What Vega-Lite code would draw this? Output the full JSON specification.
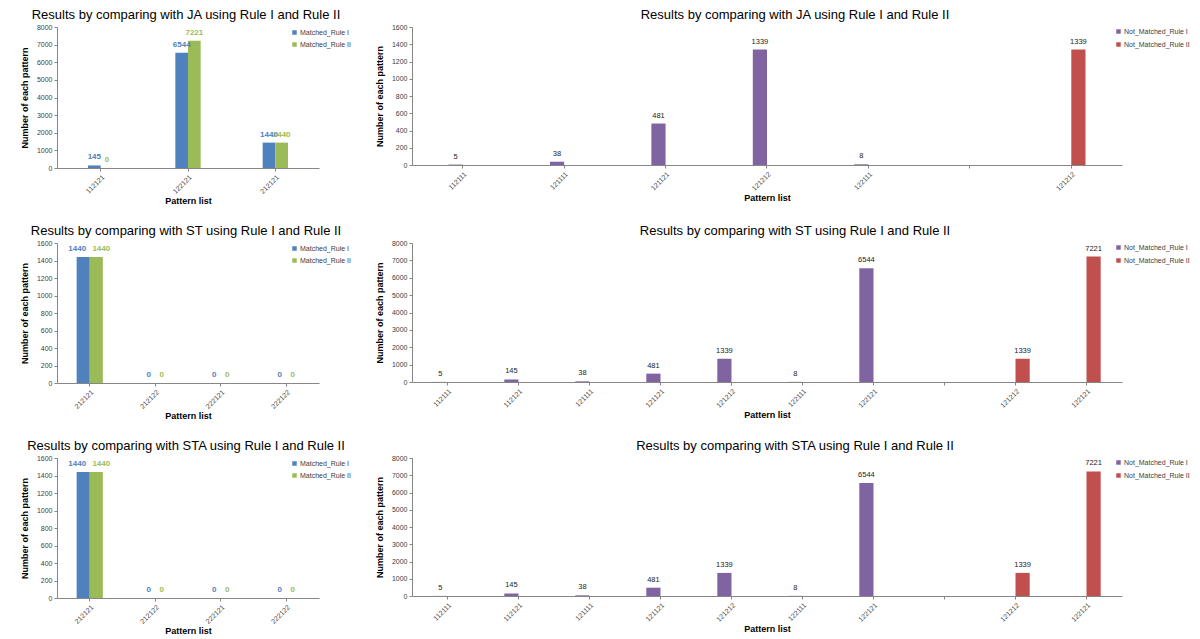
{
  "$schema": "https://vega.github.io/schema/vega-lite/v6.json",
  "padding": {"left": 20, "top": 9, "right": 5, "bottom": 3},
  "background": "white",
  "resolve": {"scale": {"color": "independent", "xOffset": "independent", "x": "independent", "y": "independent"}, "legend": {"color": "independent"}},
  "datasets": {
    "ja_m": [
      {"cat": "112121", "series": "Matched_Rule I", "value": 145},
      {"cat": "112121", "series": "Matched_Rule II", "value": 0},
      {"cat": "122121", "series": "Matched_Rule I", "value": 6544},
      {"cat": "122121", "series": "Matched_Rule II", "value": 7221},
      {"cat": "212121", "series": "Matched_Rule I", "value": 1440},
      {"cat": "212121", "series": "Matched_Rule II", "value": 1440}
    ],
    "ja_n": [
      {"cat": "112111", "series": "Not_Matched_Rule I", "value": 5},
      {"cat": "121111", "series": "Not_Matched_Rule I", "value": 38},
      {"cat": "121121", "series": "Not_Matched_Rule I", "value": 481},
      {"cat": "121212", "series": "Not_Matched_Rule I", "value": 1339},
      {"cat": "122111", "series": "Not_Matched_Rule I", "value": 8},
      {"cat": "121212b", "series": "Not_Matched_Rule II", "value": 1339}
    ],
    "st_m": [
      {"cat": "212121", "series": "Matched_Rule I", "value": 1440},
      {"cat": "212121", "series": "Matched_Rule II", "value": 1440},
      {"cat": "212122", "series": "Matched_Rule I", "value": 0},
      {"cat": "212122", "series": "Matched_Rule II", "value": 0},
      {"cat": "222121", "series": "Matched_Rule I", "value": 0},
      {"cat": "222121", "series": "Matched_Rule II", "value": 0},
      {"cat": "222122", "series": "Matched_Rule I", "value": 0},
      {"cat": "222122", "series": "Matched_Rule II", "value": 0}
    ],
    "st_n": [
      {"cat": "112111", "series": "Not_Matched_Rule I", "value": 5},
      {"cat": "112121", "series": "Not_Matched_Rule I", "value": 145},
      {"cat": "121111", "series": "Not_Matched_Rule I", "value": 38},
      {"cat": "121121", "series": "Not_Matched_Rule I", "value": 481},
      {"cat": "121212", "series": "Not_Matched_Rule I", "value": 1339},
      {"cat": "122111", "series": "Not_Matched_Rule I", "value": 8},
      {"cat": "122121", "series": "Not_Matched_Rule I", "value": 6544},
      {"cat": "121212b", "series": "Not_Matched_Rule II", "value": 1339},
      {"cat": "122121b", "series": "Not_Matched_Rule II", "value": 7221}
    ],
    "sta_m": [
      {"cat": "212121", "series": "Matched_Rule I", "value": 1440},
      {"cat": "212121", "series": "Matched_Rule II", "value": 1440},
      {"cat": "212122", "series": "Matched_Rule I", "value": 0},
      {"cat": "212122", "series": "Matched_Rule II", "value": 0},
      {"cat": "222121", "series": "Matched_Rule I", "value": 0},
      {"cat": "222121", "series": "Matched_Rule II", "value": 0},
      {"cat": "222122", "series": "Matched_Rule I", "value": 0},
      {"cat": "222122", "series": "Matched_Rule II", "value": 0}
    ],
    "sta_n": [
      {"cat": "112111", "series": "Not_Matched_Rule I", "value": 5},
      {"cat": "112121", "series": "Not_Matched_Rule I", "value": 145},
      {"cat": "121111", "series": "Not_Matched_Rule I", "value": 38},
      {"cat": "121121", "series": "Not_Matched_Rule I", "value": 481},
      {"cat": "121212", "series": "Not_Matched_Rule I", "value": 1339},
      {"cat": "122111", "series": "Not_Matched_Rule I", "value": 8},
      {"cat": "122121", "series": "Not_Matched_Rule I", "value": 6544},
      {"cat": "121212b", "series": "Not_Matched_Rule II", "value": 1339},
      {"cat": "122121b", "series": "Not_Matched_Rule II", "value": 7221}
    ]
  },
  "spacing": 19,
  "vconcat": [
    {
      "spacing": 24,
      "resolve": {"scale": {"color": "independent", "xOffset": "independent", "x": "independent", "y": "independent"}, "legend": {"color": "independent"}},
      "hconcat": [
        {
          "width": 262, "height": 141,
          "data": {"name": "ja_m"},
          "title": {"text": "Results by comparing with JA using Rule I and Rule II", "dx": -2},
          "encoding": {
            "x": {"field": "cat", "type": "nominal", "title": "Pattern list",
                  "scale": {"domain": ["112121", "122121", "212121"], "paddingInner": 0.71, "paddingOuter": 0.355}},
            "xOffset": {"field": "series", "type": "nominal", "scale": {"domain": ["Matched_Rule I", "Matched_Rule II"], "paddingInner": 0, "paddingOuter": 0}},
            "y": {"field": "value", "type": "quantitative", "title": "Number of each pattern",
                  "scale": {"domain": [0, 8000], "nice": false},
                  "axis": {"format": "d", "values": [0, 1000, 2000, 3000, 4000, 5000, 6000, 7000, 8000]}},
            "color": {"field": "series", "type": "nominal",
                      "scale": {"domain": ["Matched_Rule I", "Matched_Rule II"], "range": ["#4F81BD", "#9BBB59"]},
                      "legend": {"orient": "none", "legendX": 234, "legendY": 2}}
          },
          "layer": [
            {"mark": {"type": "bar"}},
            {"mark": {"type": "text", "dy": -8, "fontSize": 8, "fontWeight": "bold"}, "encoding": {"text": {"field": "value", "type": "quantitative", "format": "d"}}}
          ]
        },
        {
          "width": 710, "height": 138,
          "data": {"name": "ja_n"},
          "title": {"text": "Results by comparing with JA using Rule I and Rule II", "dx": 28},
          "encoding": {
            "x": {"field": "cat", "type": "nominal", "title": "Pattern list",
                  "scale": {"domain": ["112111", "121111", "121121", "121212", "122111", "gap", "121212b"], "paddingInner": 0.72, "paddingOuter": 0.36},
                  "axis": {"labelExpr": "datum.value == 'gap' ? '' : slice(datum.value, 0, 6)"}},
            "xOffset": {"field": "series", "type": "nominal", "scale": {"domain": ["Not_Matched_Rule I", "Not_Matched_Rule II"], "paddingInner": 0, "paddingOuter": 0}},
            "y": {"field": "value", "type": "quantitative", "title": "Number of each pattern",
                  "scale": {"domain": [0, 1600], "nice": false},
                  "axis": {"format": "d", "values": [0, 200, 400, 600, 800, 1000, 1200, 1400, 1600]}}
          },
          "layer": [
            {"mark": {"type": "bar"},
             "encoding": {"color": {"field": "series", "type": "nominal",
                      "scale": {"domain": ["Not_Matched_Rule I", "Not_Matched_Rule II"], "range": ["#8064A2", "#C0504D"]},
                      "legend": {"orient": "none", "legendX": 703, "legendY": 1, "rowPadding": 5}}}},
            {"mark": {"type": "text", "dy": -8, "fontSize": 7.5, "color": "#222222"}, "encoding": {"text": {"field": "value", "type": "quantitative", "format": "d"}}}
          ]
        }
      ]
    },
    {
      "spacing": 24,
      "resolve": {"scale": {"color": "independent", "xOffset": "independent", "x": "independent", "y": "independent"}, "legend": {"color": "independent"}},
      "hconcat": [
        {
          "width": 262, "height": 140,
          "data": {"name": "st_m"},
          "title": {"text": "Results by comparing with ST using Rule I and Rule II", "dx": -2},
          "encoding": {
            "x": {"field": "cat", "type": "nominal", "title": "Pattern list",
                  "scale": {"domain": ["212121", "212122", "222121", "222122"], "paddingInner": 0.6, "paddingOuter": 0.3}},
            "xOffset": {"field": "series", "type": "nominal", "scale": {"domain": ["Matched_Rule I", "Matched_Rule II"], "paddingInner": 0, "paddingOuter": 0}},
            "y": {"field": "value", "type": "quantitative", "title": "Number of each pattern",
                  "scale": {"domain": [0, 1600], "nice": false},
                  "axis": {"format": "d", "values": [0, 200, 400, 600, 800, 1000, 1200, 1400, 1600]}},
            "color": {"field": "series", "type": "nominal",
                      "scale": {"domain": ["Matched_Rule I", "Matched_Rule II"], "range": ["#4F81BD", "#9BBB59"]},
                      "legend": {"orient": "none", "legendX": 234, "legendY": 2}}
          },
          "layer": [
            {"mark": {"type": "bar"}},
            {"transform": [{"filter": "datum.value == 0"}],
             "mark": {"type": "text", "dy": -8, "fontSize": 8, "fontWeight": "bold"}, "encoding": {"text": {"field": "value", "type": "quantitative", "format": "d"}}},
            {"transform": [{"filter": "datum.value > 0 && datum.series == 'Matched_Rule I'"}],
             "mark": {"type": "text", "dy": -8, "dx": -6, "fontSize": 8, "fontWeight": "bold"}, "encoding": {"text": {"field": "value", "type": "quantitative", "format": "d"}}},
            {"transform": [{"filter": "datum.value > 0 && datum.series == 'Matched_Rule II'"}],
             "mark": {"type": "text", "dy": -8, "dx": 5, "fontSize": 8, "fontWeight": "bold"}, "encoding": {"text": {"field": "value", "type": "quantitative", "format": "d"}}}
          ]
        },
        {
          "width": 710, "height": 139,
          "data": {"name": "st_n"},
          "title": {"text": "Results by comparing with ST using Rule I and Rule II", "dx": 28},
          "encoding": {
            "x": {"field": "cat", "type": "nominal", "title": "Pattern list",
                  "scale": {"domain": ["112111", "112121", "121111", "121121", "121212", "122111", "122121", "gap", "121212b", "122121b"], "paddingInner": 0.6, "paddingOuter": 0.3},
                  "axis": {"labelExpr": "datum.value == 'gap' ? '' : slice(datum.value, 0, 6)"}},
            "xOffset": {"field": "series", "type": "nominal", "scale": {"domain": ["Not_Matched_Rule I", "Not_Matched_Rule II"], "paddingInner": 0, "paddingOuter": 0}},
            "y": {"field": "value", "type": "quantitative", "title": "Number of each pattern",
                  "scale": {"domain": [0, 8000], "nice": false},
                  "axis": {"format": "d", "values": [0, 1000, 2000, 3000, 4000, 5000, 6000, 7000, 8000]}}
          },
          "layer": [
            {"mark": {"type": "bar"},
             "encoding": {"color": {"field": "series", "type": "nominal",
                      "scale": {"domain": ["Not_Matched_Rule I", "Not_Matched_Rule II"], "range": ["#8064A2", "#C0504D"]},
                      "legend": {"orient": "none", "legendX": 703, "legendY": 1, "rowPadding": 5}}}},
            {"mark": {"type": "text", "dy": -8, "fontSize": 7.5, "color": "#222222"}, "encoding": {"text": {"field": "value", "type": "quantitative", "format": "d"}}}
          ]
        }
      ]
    },
    {
      "spacing": 24,
      "resolve": {"scale": {"color": "independent", "xOffset": "independent", "x": "independent", "y": "independent"}, "legend": {"color": "independent"}},
      "hconcat": [
        {
          "width": 262, "height": 140,
          "data": {"name": "sta_m"},
          "title": {"text": "Results by comparing with STA using Rule I and Rule II", "dx": -2},
          "encoding": {
            "x": {"field": "cat", "type": "nominal", "title": "Pattern list",
                  "scale": {"domain": ["212121", "212122", "222121", "222122"], "paddingInner": 0.6, "paddingOuter": 0.3}},
            "xOffset": {"field": "series", "type": "nominal", "scale": {"domain": ["Matched_Rule I", "Matched_Rule II"], "paddingInner": 0, "paddingOuter": 0}},
            "y": {"field": "value", "type": "quantitative", "title": "Number of each pattern",
                  "scale": {"domain": [0, 1600], "nice": false},
                  "axis": {"format": "d", "values": [0, 200, 400, 600, 800, 1000, 1200, 1400, 1600]}},
            "color": {"field": "series", "type": "nominal",
                      "scale": {"domain": ["Matched_Rule I", "Matched_Rule II"], "range": ["#4F81BD", "#9BBB59"]},
                      "legend": {"orient": "none", "legendX": 234, "legendY": 2}}
          },
          "layer": [
            {"mark": {"type": "bar"}},
            {"transform": [{"filter": "datum.value == 0"}],
             "mark": {"type": "text", "dy": -8, "fontSize": 8, "fontWeight": "bold"}, "encoding": {"text": {"field": "value", "type": "quantitative", "format": "d"}}},
            {"transform": [{"filter": "datum.value > 0 && datum.series == 'Matched_Rule I'"}],
             "mark": {"type": "text", "dy": -8, "dx": -6, "fontSize": 8, "fontWeight": "bold"}, "encoding": {"text": {"field": "value", "type": "quantitative", "format": "d"}}},
            {"transform": [{"filter": "datum.value > 0 && datum.series == 'Matched_Rule II'"}],
             "mark": {"type": "text", "dy": -8, "dx": 5, "fontSize": 8, "fontWeight": "bold"}, "encoding": {"text": {"field": "value", "type": "quantitative", "format": "d"}}}
          ]
        },
        {
          "width": 710, "height": 138,
          "data": {"name": "sta_n"},
          "title": {"text": "Results by comparing with STA using Rule I and Rule II", "dx": 28},
          "encoding": {
            "x": {"field": "cat", "type": "nominal", "title": "Pattern list",
                  "scale": {"domain": ["112111", "112121", "121111", "121121", "121212", "122111", "122121", "gap", "121212b", "122121b"], "paddingInner": 0.6, "paddingOuter": 0.3},
                  "axis": {"labelExpr": "datum.value == 'gap' ? '' : slice(datum.value, 0, 6)"}},
            "xOffset": {"field": "series", "type": "nominal", "scale": {"domain": ["Not_Matched_Rule I", "Not_Matched_Rule II"], "paddingInner": 0, "paddingOuter": 0}},
            "y": {"field": "value", "type": "quantitative", "title": "Number of each pattern",
                  "scale": {"domain": [0, 8000], "nice": false},
                  "axis": {"format": "d", "values": [0, 1000, 2000, 3000, 4000, 5000, 6000, 7000, 8000]}}
          },
          "layer": [
            {"mark": {"type": "bar"},
             "encoding": {"color": {"field": "series", "type": "nominal",
                      "scale": {"domain": ["Not_Matched_Rule I", "Not_Matched_Rule II"], "range": ["#8064A2", "#C0504D"]},
                      "legend": {"orient": "none", "legendX": 703, "legendY": 1, "rowPadding": 5}}}},
            {"mark": {"type": "text", "dy": -8, "fontSize": 7.5, "color": "#222222"}, "encoding": {"text": {"field": "value", "type": "quantitative", "format": "d"}}}
          ]
        }
      ]
    }
  ],
  "config": {
    "font": "Liberation Sans",
    "view": {"stroke": null},
    "title": {"fontSize": 13, "fontWeight": "normal", "color": "#000000", "offset": 1, "anchor": "middle"},
    "axis": {
      "grid": false,
      "domainColor": "#868686",
      "tickColor": "#868686",
      "tickSize": 3,
      "labelFontSize": 7,
      "labelColor": "#404040",
      "titleFontSize": 9,
      "titleFontWeight": "bold",
      "titleColor": "#000000"
    },
    "axisX": {"labelAngle": -45, "titlePadding": 2},
    "axisY": {"titlePadding": 7},
    "legend": {
      "title": null,
      "labelFontSize": 7,
      "labelColor": "#404040",
      "symbolType": "square",
      "symbolSize": 20,
      "symbolStrokeWidth": 0,
      "rowPadding": 4,
      "labelOffset": 2
    }
  }
}
